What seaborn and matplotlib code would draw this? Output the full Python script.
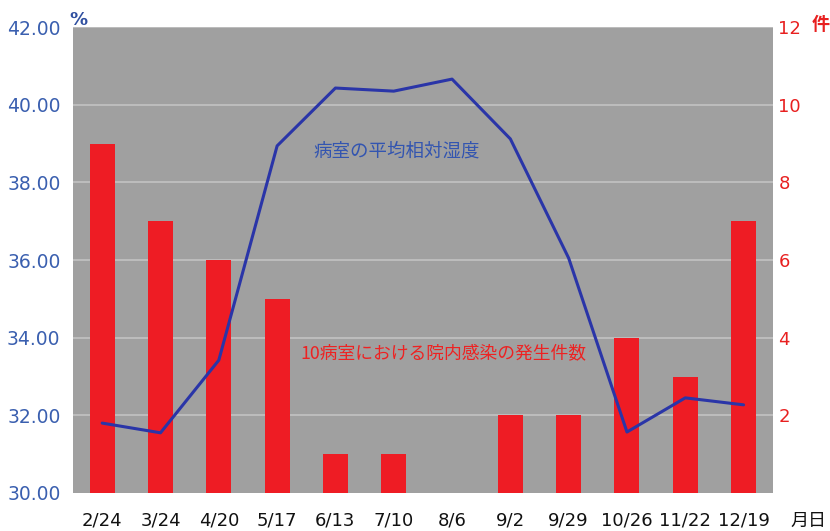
import numpy as np
import pandas as pd
import matplotlib
matplotlib.use("Agg")
import matplotlib.pyplot as plt
import seaborn as sns

# data
dates = ["2/24", "3/24", "4/20", "5/17", "6/13", "7/10", "8/6",
         "9/2", "9/29", "10/26", "11/22", "12/19"]
infections = [9, 7, 6, 5, 1, 1, 0, 2, 2, 4, 3, 7]
humidity = [31.80, 31.55, 33.42, 38.94, 40.43, 40.35, 40.66,
            39.12, 36.05, 31.57, 32.45, 32.27]
left_ticks = [30, 32, 34, 36, 38, 40, 42]
right_ticks = [2, 4, 6, 8, 10, 12]

sns.set_theme(style="white")
plt.rcParams['font.family'] = ['DejaVu Sans', 'Noto Sans CJK JP']
jp = ['Noto Sans CJK JP', 'DejaVu Sans']

df = pd.DataFrame({"date": dates, "count": infections, "rh": humidity})

fig = plt.figure(figsize=(8.3, 5.31), dpi=100)
ax = fig.add_axes([0.088, 0.0716, 0.843, 0.8774])
ax2 = ax.twinx()

# bars on the right axis, behind the line
sns.barplot(data=df, x="date", y="count", ax=ax2, color="#ee1c24",
            width=0.43, linewidth=0, saturation=1)
ax2.patch.set_visible(True)
ax2.set_facecolor("#a0a0a0")
ax2.set_ylim(0, 12)
ax2.set_yticks(right_ticks)
ax2.set_yticklabels([str(t) for t in right_ticks], color="#e82020", fontsize=13)
ax2.grid(axis="y", color="#c2c2c2", linewidth=1.2)
ax2.set_axisbelow(True)
ax2.set_ylabel("")
ax2.tick_params(axis="y", length=0, pad=4)

# humidity line on the left axis, drawn on top
ax.set_zorder(ax2.get_zorder() + 1)
ax.patch.set_visible(False)
sns.lineplot(data=df, x="date", y="rh", ax=ax, color="#2a35a8",
             linewidth=2.2, sort=False)
ax.set_ylim(30, 42)
ax.set_xlim(-0.5, 11.5)
ax.set_yticks(left_ticks)
ax.set_yticklabels([f"{t:.2f}" for t in left_ticks], color="#3a5faf", fontsize=13.5)
ax.tick_params(axis="y", length=0, pad=9)
ax.tick_params(axis="x", length=0, pad=13, labelsize=13, labelcolor="#111111")
ax.set_xlabel("")
ax.set_ylabel("")

for a in (ax, ax2):
    for s in a.spines.values():
        s.set_visible(False)

# annotations
fig.text(0.084, 0.962, "%", color="#2f4fa0", fontsize=13, fontweight="bold", va="center")
fig.text(0.978, 0.953, "件", color="#e82020", fontsize=13, fontweight="bold",
         va="center", family=jp)
fig.text(0.952, 0.019, "月日", color="#111111", fontsize=13, va="center", family=jp)
ax.text(5.05, 38.8, "病室の平均相対湿度", color="#3355b0", fontsize=13.3,
        ha="center", va="center", family=jp)
ax.text(5.85, 33.6, "10病室における院内感染の発生件数", color="#ee2222",
        fontsize=12.8, ha="center", va="center", family=jp)

fig.savefig("out.png", dpi=100)
